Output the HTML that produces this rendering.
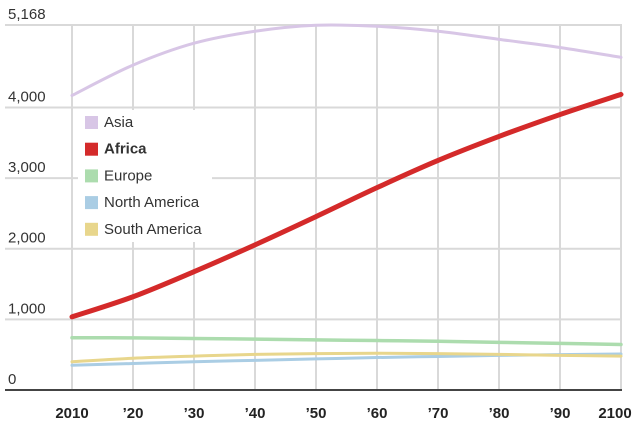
<!DOCTYPE html>
<html><head><meta charset="utf-8"><style>
body{margin:0;background:#fff;font-family:"Liberation Sans",sans-serif}
</style></head><body>
<svg id="chart" width="640" height="425" viewBox="0 0 640 425" xmlns="http://www.w3.org/2000/svg" font-family="Liberation Sans, sans-serif">
<g id="grid"></g><g id="lines"></g><g id="labels"></g>
<g id="legend"></g>
</svg>
<script>
const years=[2010,2020,2030,2040,2050,2060,2070,2080,2090,2100];
const xLabels=["2010","’20","’30","’40","’50","’60","’70","’80","’90","2100"];
const yTicks=[0,1000,2000,3000,4000,5168];
const yTickLabels=["0","1,000","2,000","3,000","4,000","5,168"];
const asia=[4170,4600,4910,5080,5165,5150,5080,4965,4850,4710];
const africa=[1035,1320,1675,2055,2455,2865,3250,3590,3900,4185];
const europe=[740,738,730,720,710,700,690,675,660,645];
const northAmerica=[350,375,400,420,440,460,475,490,500,510];
const southAmerica=[400,450,480,505,515,520,515,505,490,480];
const NS="http://www.w3.org/2000/svg";
const x=y=>72+(y-2010)*(549/90);
const yS=v=>390-v*(365/5168);
function mk(t,a,p){const e=document.createElementNS(NS,t);for(const k in a)e.setAttribute(k,a[k]);p.appendChild(e);return e;}
const grid=document.getElementById('grid'),labels=document.getElementById('labels'),lines=document.getElementById('lines'),legend=document.getElementById('legend');
years.forEach((yr,i)=>{
 const l=mk('line',{x1:x(yr),x2:x(yr),y1:yS(5168),y2:390,stroke:'#d9d9d9','stroke-width':2},grid);
 
 
 const t=mk('text',{x:x(yr)-(i==9?6:0),y:418,'text-anchor':'middle','font-size':15,'font-weight':'bold',fill:'#222'},labels);
 t.textContent=xLabels[i];
 
 
});
yTicks.forEach((v,i)=>{
 const l=mk('line',{x1:5,x2:622,y1:yS(v),y2:yS(v),stroke:i==0?'#444':'#d9d9d9','stroke-width':2},grid);
 
 
 const t=mk('text',{x:8,y:yS(v)-6,'font-size':15,fill:'#333'},labels);
 t.textContent=yTickLabels[i];
 
 
});
const series=[
 {n:'Asia',d:asia,c:'#d8c6e6',w:3,b:false},
 {n:'Africa',d:africa,c:'#d42a2a',w:5,b:true},
 {n:'Europe',d:europe,c:'#acdcae',w:3.5,b:false},
 {n:'North America',d:northAmerica,c:'#aacde4',w:3,b:false},
 {n:'South America',d:southAmerica,c:'#e8d68c',w:3,b:false}];
function smooth(pts){let d=`M${pts[0][0]},${pts[0][1]}`;for(let i=0;i<pts.length-1;i++){const p0=pts[i-1]||pts[i],p1=pts[i],p2=pts[i+1],p3=pts[i+2]||p2;d+=` C${p1[0]+(p2[0]-p0[0])/6},${p1[1]+(p2[1]-p0[1])/6} ${p2[0]-(p3[0]-p1[0])/6},${p2[1]-(p3[1]-p1[1])/6} ${p2[0]},${p2[1]}`;}return d;}
[2,3,4,0,1].forEach(k=>{const s=series[k];
 const p=mk('path',{d:smooth(years.map((yr,i)=>[x(yr),yS(s.d[i])])),fill:'none',stroke:s.c,'stroke-width':s.w,'stroke-linecap':'round'},lines);
 
 
});
mk('rect',{x:78,y:110,width:134,height:132,fill:'#fff'},legend);
series.forEach((s,i)=>{const cy=122+i*26.7;
 const g=mk('g',{},legend);
 
 
 mk('rect',{x:85,y:cy-6,width:13,height:13,fill:s.c},g);
 const t=mk('text',{x:104,y:cy+5,'font-size':15,fill:'#333','font-weight':s.b?'bold':'normal'},g);
 t.textContent=s.n;
});
</script>
</body></html>
